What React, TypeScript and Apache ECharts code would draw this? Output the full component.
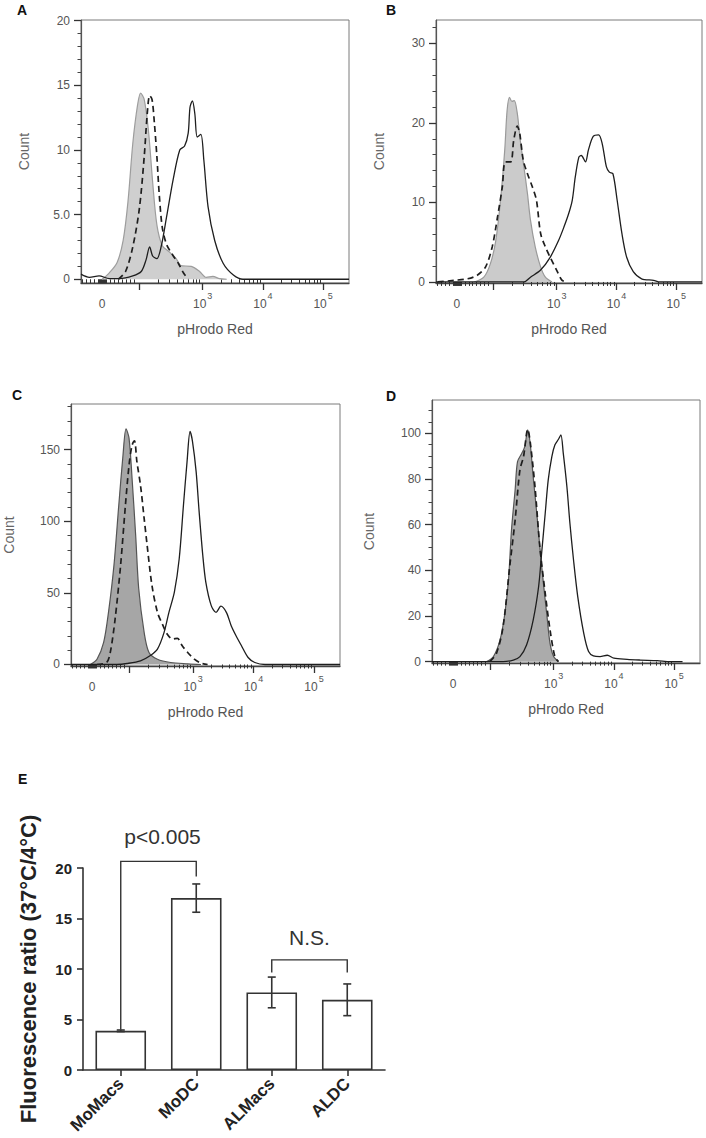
import React, { useEffect, useRef } from 'react';
import * as echarts from 'echarts';

const FONT = '"Liberation Sans", Arial, Helvetica, sans-serif';

// ---------- Histogram x scale (logicle display, decade units: 10^3 -> 3) ----------
const X_MIN = 0.98;
const X_MAX = 5.43;
const xLabelPositions = [1.33, 3, 4, 5];
const xLabelTexts = ['0', '10^3', '10^4', '10^5'];
const xMajorTicks = [1.94, 3, 4, 5];

// ---------- Panel A ----------
const yMajorA = [0, 5, 10, 15, 20];
const yLabelsA = ['0', '5.0', '10', '15', '20'];
const grayA = [[1.33,0],[1.45,0.5],[1.58,1.3],[1.68,3.0],[1.76,6.0],[1.84,10.5],[1.92,13.5],[1.97,14.4],[2.03,13.9],[2.10,11.5],[2.17,7.5],[2.24,4.2],[2.33,2.6],[2.45,2.1],[2.56,1.6],[2.64,1.05],[2.81,1.0],[2.95,0.6],[3.06,0.15],[3.17,0.22],[3.28,0.05],[3.4,0]];
const dashedA = [[1.6,0],[1.72,0.6],[1.84,2.5],[1.95,5.5],[2.03,9.5],[2.08,12.8],[2.12,14.2],[2.16,13.9],[2.2,12.0],[2.24,9.5],[2.28,6.5],[2.33,4.0],[2.4,2.7],[2.5,1.9],[2.6,1.2],[2.68,0.5],[2.76,0]];
const solidA = [[0.98,0.4],[1.12,0.15],[1.28,0.26],[1.45,0.05],[1.62,0.05],[1.84,0.26],[1.98,0.6],[2.06,1.5],[2.12,2.5],[2.17,1.8],[2.24,1.6],[2.31,2.5],[2.4,4.8],[2.51,7.7],[2.62,10.0],[2.7,10.3],[2.76,11.3],[2.79,13.3],[2.83,13.8],[2.87,12.8],[2.91,11.0],[2.97,11.2],[3.02,9.2],[3.09,5.6],[3.2,3.0],[3.34,1.24],[3.51,0.33],[3.67,0],[5.43,0]];

// ---------- Panel B ----------
const yMajorB = [0, 10, 20, 30];
const yLabelsB = ['0', '10', '20', '30'];
const grayB = [[1.62,0],[1.78,0.6],[1.89,2.3],[1.98,5.2],[2.06,10.3],[2.13,16.6],[2.17,21.6],[2.21,23.2],[2.25,22.7],[2.29,22.8],[2.34,21.2],[2.39,17.8],[2.45,14.5],[2.51,11.1],[2.56,7.8],[2.64,4.4],[2.73,1.9],[2.81,0.6],[2.92,0]];
const dashedB = [[1.01,0],[1.28,0.2],[1.51,0.4],[1.67,0.84],[1.81,1.9],[1.92,4.4],[2.01,8.2],[2.09,12.0],[2.14,15.1],[2.23,15.1],[2.28,17.8],[2.34,19.6],[2.38,18.7],[2.44,15.3],[2.51,13.6],[2.59,12.0],[2.66,10.3],[2.73,6.1],[2.81,4.4],[2.89,3.1],[3.01,1.3],[3.09,0.2],[3.17,0]];
const solidB = [[0.98,0],[2.45,0],[2.56,0.6],[2.73,1.5],[2.89,3.1],[3.03,5.2],[3.12,6.9],[3.2,8.6],[3.26,10.3],[3.31,13.2],[3.37,15.7],[3.41,15.9],[3.48,15.1],[3.53,16.6],[3.61,18.3],[3.7,18.5],[3.76,17.4],[3.83,14.5],[3.88,13.8],[3.94,13.6],[4.01,10.3],[4.09,6.1],[4.17,3.1],[4.28,1.3],[4.42,0.4],[4.62,0.2],[4.73,0],[5.43,0]];

// ---------- Panel C ----------
const yMajorC = [0, 50, 100, 150];
const yLabelsC = ['0', '50', '100', '150'];
const grayC = [[1.30,0],[1.41,3.7],[1.52,15.4],[1.60,36.4],[1.69,69],[1.77,111],[1.84,146],[1.89,164.5],[1.94,158],[1.99,130],[2.05,90],[2.10,53],[2.19,22.4],[2.27,8.4],[2.41,3.7],[2.63,1.4],[2.91,0.5],[3.13,0]];
const dashedC = [[1.41,0],[1.57,1.4],[1.63,8.4],[1.71,31.8],[1.80,69],[1.88,111],[1.94,139],[1.99,153],[2.03,156],[2.07,141.6],[2.13,125],[2.19,102],[2.24,83],[2.32,55],[2.41,36.4],[2.49,28.3],[2.57,21.3],[2.66,17.8],[2.74,18.2],[2.82,13.1],[2.91,8.4],[3.02,3.7],[3.13,0.9],[3.24,0]];
const solidC = [[0.98,0],[1.74,0],[1.91,0.7],[2.13,2.6],[2.30,6.5],[2.41,10.7],[2.52,22.4],[2.60,36.4],[2.69,50.5],[2.77,73.8],[2.84,111],[2.90,141.6],[2.95,162.6],[2.99,155.6],[3.05,134.6],[3.10,106.5],[3.16,76.2],[3.21,57.5],[3.30,41.1],[3.38,36.4],[3.46,40.7],[3.55,36.4],[3.63,27.1],[3.71,20.1],[3.80,13.1],[3.91,4.9],[4.02,1.4],[4.19,0],[5.43,0]];

// ---------- Panel D ----------
const yMajorD = [0, 20, 40, 60, 80, 100];
const yLabelsD = ['0', '20', '40', '60', '80', '100'];
const grayD = [[1.89,0],[2.0,2.2],[2.11,9.5],[2.19,21.2],[2.25,35.8],[2.30,57.7],[2.36,75.2],[2.40,87.6],[2.47,91.2],[2.52,94.2],[2.57,101.5],[2.61,95.6],[2.66,81],[2.72,65],[2.77,50.4],[2.83,34.3],[2.89,19.7],[2.94,8.0],[3.0,2.2],[3.08,0]];
const dashedD = [[1.94,0],[2.05,3.6],[2.16,15.3],[2.27,41.6],[2.36,62],[2.44,84],[2.50,89.8],[2.57,101.8],[2.61,96.4],[2.69,76.6],[2.77,50.4],[2.86,29.9],[2.94,13.9],[3.02,2.2],[3.08,0]];
const solidD = [[0.98,0],[2.16,0],[2.33,0.7],[2.44,2.2],[2.55,7.3],[2.66,18.2],[2.75,32.8],[2.80,47.4],[2.86,65],[2.91,79.6],[2.97,89.8],[3.02,94.9],[3.08,97.4],[3.12,99.3],[3.16,91.2],[3.22,76.6],[3.27,60.6],[3.33,44.5],[3.40,28.5],[3.50,12.4],[3.58,4.4],[3.66,2.5],[3.77,2.2],[3.89,2.8],[4.0,1.5],[4.22,1.0],[4.44,0.7],[4.72,0.4],[4.94,0],[5.14,0]];

// ---------- Panel E ----------
const eCategories = ['MoMacs', 'MoDC', 'ALMacs', 'ALDC'];
const eMeans = [3.88, 17.02, 7.68, 6.95];
const eErrors = [0.08, 1.4, 1.52, 1.57];
const eBracketTexts = ['p<0.005', 'N.S.'];
// [fromCat, toCat, topY, leftLegEnd, rightLegEnd, textY]
const eBrackets = [[0, 1, 20.66, 3.98, 19.15, 23.1], [2, 3, 10.9, 9.65, 9.65, 13.07]];

function minorX(): number[] {
  const t: number[] = [];
  for (let k = -5; k <= 8; k++) if (k !== 0) t.push(1.33 + k * 0.0661);
  for (let k = -3; k <= 3; k++) t.push(1.33 + k * 0.016);
  for (let k = 2; k <= 9; k++) t.push(1.94 + 1.06 * Math.log10(k));
  for (const d of [3, 4]) for (let k = 2; k <= 9; k++) t.push(d + Math.log10(k));
  return t;
}
function minorY(step: number, max: number, majors: number[]): number[] {
  const t: number[] = [];
  for (let v = step; v <= max + 1e-9; v += step) {
    const r = Math.round(v * 1000) / 1000;
    if (!majors.some((m) => Math.abs(m - r) < 1e-6)) t.push(r);
  }
  return t;
}
function fmtX(v: number): string {
  const i = xLabelPositions.findIndex((p) => Math.abs(p - v) < 1e-6);
  if (i < 0) return '';
  const [base, exp] = xLabelTexts[i].split('^');
  return exp ? `{b|${base}}{s|${exp}}` : `{b|${base}}`;
}

const panels = [
  { label: 'A', lx: 17, ly: 3, grid: { left: 81, top: 20, width: 268, height: 263 }, yMin: -0.29, yMax: 20.05, yMajor: yMajorA, yLabels: yLabelsA, yStep: 1, countGap: 50, fill: '#cfcfcf', edge: '#9d9d9d', gray: grayA, dashed: dashedA, solid: solidA },
  { label: 'B', lx: 386, ly: 3, grid: { left: 436, top: 20, width: 266, height: 263 }, yMin: -0.13, yMax: 32.93, yMajor: yMajorB, yLabels: yLabelsB, yStep: 2, countGap: 50, fill: '#cbcbcb', edge: '#9a9a9a', gray: grayB, dashed: dashedB, solid: solidB },
  { label: 'C', lx: 12, ly: 388, grid: { left: 71, top: 404, width: 269, height: 262 }, yMin: -1.05, yMax: 181.8, yMajor: yMajorC, yLabels: yLabelsC, yStep: 10, countGap: 55, fill: '#a6a6a6', edge: '#555555', gray: grayC, dashed: dashedC, solid: solidC },
  { label: 'D', lx: 386, ly: 389, grid: { left: 432, top: 400, width: 268, height: 263 }, yMin: -0.6, yMax: 114.6, yMajor: yMajorD, yLabels: yLabelsD, yStep: 5, countGap: 56, fill: '#ababab', edge: '#555555', gray: grayD, dashed: dashedD, solid: solidD },
];

function buildOption() {
  const grids: any[] = [];
  const xAxes: any[] = [];
  const yAxes: any[] = [];
  const series: any[] = [];
  const xMinor = minorX();

  panels.forEach((p, i) => {
    grids.push({ ...p.grid, show: true, borderColor: '#7a7a7a', borderWidth: 1, backgroundColor: 'transparent' });
    const xi = xAxes.length;
    xAxes.push({
      type: 'value', gridIndex: i, position: 'bottom', min: X_MIN, max: X_MAX,
      axisLine: { show: true, onZero: false, lineStyle: { color: '#444', width: 1.3 } },
      axisTick: { show: true, customValues: xMajorTicks, length: 7, lineStyle: { color: '#333', width: 1.3 } },
      axisLabel: {
        show: true, customValues: xLabelPositions, formatter: fmtX, margin: 8,
        rich: {
          b: { fontSize: 12, color: '#555', fontFamily: FONT, padding: [7, 0, 0, 0] },
          s: { fontSize: 9, color: '#555', fontFamily: FONT, verticalAlign: 'top', padding: [0, 0, 0, 1] },
        },
      },
      splitLine: { show: false },
      name: 'pHrodo Red', nameLocation: 'middle', nameGap: 39,
      nameTextStyle: { color: '#555', fontSize: 14, fontFamily: FONT },
    });
    xAxes.push({
      type: 'value', gridIndex: i, position: 'bottom', min: X_MIN, max: X_MAX,
      axisLine: { show: false },
      axisTick: { show: true, customValues: xMinor, length: 4, lineStyle: { color: '#333', width: 1 } },
      axisLabel: { show: false }, splitLine: { show: false },
    });
    const yi = yAxes.length;
    const labels = p.yLabels;
    const majors = p.yMajor;
    yAxes.push({
      type: 'value', gridIndex: i, position: 'left', min: p.yMin, max: p.yMax,
      axisLine: { show: true, onZero: false, lineStyle: { color: '#555', width: 1.2 } },
      axisTick: { show: true, customValues: majors, length: 7, lineStyle: { color: '#333', width: 1.3 } },
      axisLabel: {
        show: true, customValues: majors, margin: 11, color: '#555', fontSize: 12, fontFamily: FONT,
        formatter: (v: number) => {
          const k = majors.findIndex((m) => Math.abs(m - v) < 1e-6);
          return k < 0 ? '' : labels[k];
        },
      },
      splitLine: { show: false },
      name: 'Count', nameLocation: 'middle', nameGap: p.countGap,
      nameTextStyle: { color: '#666', fontSize: 14, fontFamily: FONT },
    });
    yAxes.push({
      type: 'value', gridIndex: i, position: 'left', min: p.yMin, max: p.yMax,
      axisLine: { show: false },
      axisTick: { show: true, customValues: minorY(p.yStep, p.yMax, majors), length: 3.5, lineStyle: { color: '#444', width: 1 } },
      axisLabel: { show: false }, splitLine: { show: false },
    });
    const common = { xAxisIndex: xi, yAxisIndex: yi, showSymbol: false, symbol: 'none', smooth: 0.3, silent: true };
    series.push({ ...common, type: 'line', data: p.gray, z: 2, lineStyle: { color: p.edge, width: 1.2 }, areaStyle: { color: p.fill, opacity: 1 } });
    series.push({ ...common, type: 'line', data: p.dashed, z: 3, lineStyle: { color: '#1e1e1e', width: 1.7, type: [6, 4] } });
    series.push({ ...common, type: 'line', data: p.solid, z: 4, lineStyle: { color: '#1e1e1e', width: 1.3 } });
  });

  // Panel E
  const ei = grids.length;
  grids.push({ left: 83, top: 868, width: 302, height: 202, show: false });
  const exi = xAxes.length;
  xAxes.push({
    type: 'category', gridIndex: ei, data: eCategories,
    axisLine: { show: true, lineStyle: { color: '#333', width: 1.6 } },
    axisTick: { show: true, alignWithLabel: true, length: 6, lineStyle: { color: '#333', width: 1.6 } },
    axisLabel: { interval: 0, rotate: 45, margin: 11, fontSize: 17, fontWeight: 'bold', color: '#222', fontFamily: FONT },
    splitLine: { show: false },
  });
  const eyi = yAxes.length;
  yAxes.push({
    type: 'value', gridIndex: ei, min: 0, max: 20, interval: 5,
    axisLine: { show: true, lineStyle: { color: '#333', width: 1.6 } },
    axisTick: { show: true, length: 6, lineStyle: { color: '#333', width: 1.6 } },
    axisLabel: { margin: 11, fontSize: 15, fontWeight: 'bold', color: '#222', fontFamily: FONT },
    splitLine: { show: false },
    name: 'Fluorescence ratio (37°C/4°C)', nameLocation: 'middle', nameGap: 44,
    nameTextStyle: { fontSize: 22, fontWeight: 'bold', color: '#222', fontFamily: FONT },
  });
  series.push({
    type: 'bar', xAxisIndex: exi, yAxisIndex: eyi, data: eMeans, barWidth: '67%', silent: true,
    itemStyle: { color: '#ffffff', borderColor: '#333', borderWidth: 1.6 },
  });
  series.push({
    type: 'custom', xAxisIndex: exi, yAxisIndex: eyi, silent: true, clip: false, z: 5,
    data: eMeans.map((m, i) => [i, m, eErrors[i]]),
    renderItem: (params: any, api: any) => {
      const x = api.value(0), m = api.value(1), e = api.value(2);
      const top = api.coord([x, m + e]);
      const bot = api.coord([x, m - e]);
      const w = 4;
      const st = { stroke: '#333', lineWidth: 1.6 };
      return {
        type: 'group',
        children: [
          { type: 'line', shape: { x1: top[0], y1: top[1], x2: bot[0], y2: bot[1] }, style: st },
          { type: 'line', shape: { x1: top[0] - w, y1: top[1], x2: top[0] + w, y2: top[1] }, style: st },
          { type: 'line', shape: { x1: bot[0] - w, y1: bot[1], x2: bot[0] + w, y2: bot[1] }, style: st },
        ],
      };
    },
  });
  series.push({
    type: 'custom', xAxisIndex: exi, yAxisIndex: eyi, silent: true, clip: false, z: 6,
    data: eBrackets,
    renderItem: (params: any, api: any) => {
      const a = api.value(0), b = api.value(1), top = api.value(2), la = api.value(3), lb = api.value(4), ty = api.value(5);
      const p0 = api.coord([a, top]);
      const p1 = api.coord([b, top]);
      const l0 = api.coord([a, la]);
      const l1 = api.coord([b, lb]);
      const tp = api.coord([a, ty]);
      return {
        type: 'group',
        children: [
          { type: 'polyline', shape: { points: [l0, p0, p1, l1] }, style: { stroke: '#333', lineWidth: 1.4, fill: 'none' } },
          {
            type: 'text', x: (p0[0] + p1[0]) / 2 + (params.dataIndex === 0 ? 4 : 0), y: tp[1],
            style: { text: eBracketTexts[params.dataIndex], fill: '#333', font: `21px ${FONT}`, align: 'center', verticalAlign: 'middle', textAlign: 'center', textVerticalAlign: 'middle' },
          },
        ],
      };
    },
  });

  const graphic = [
    ...panels.map((p) => ({ type: 'text', left: p.lx, top: p.ly, style: { text: p.label, font: `bold 14px ${FONT}`, fill: '#111' } })),
    { type: 'text', left: 18, top: 772, style: { text: 'E', font: `bold 14px ${FONT}`, fill: '#111' } },
  ];

  return {
    animation: false,
    backgroundColor: '#ffffff',
    textStyle: { fontFamily: FONT },
    grid: grids,
    xAxis: xAxes,
    yAxis: yAxes,
    series,
    graphic,
  };
}

export default function App() {
  const ref = useRef<HTMLDivElement>(null);
  useEffect(() => {
    if (!ref.current) return;
    const chart = echarts.init(ref.current, null, { renderer: 'svg' });
    chart.setOption(buildOption() as any);
    return () => chart.dispose();
  }, []);
  return (
    <div
      ref={ref}
      style={{ position: 'absolute', left: 0, top: 0, width: 706, height: 1138, background: '#fff' }}
    />
  );
}
